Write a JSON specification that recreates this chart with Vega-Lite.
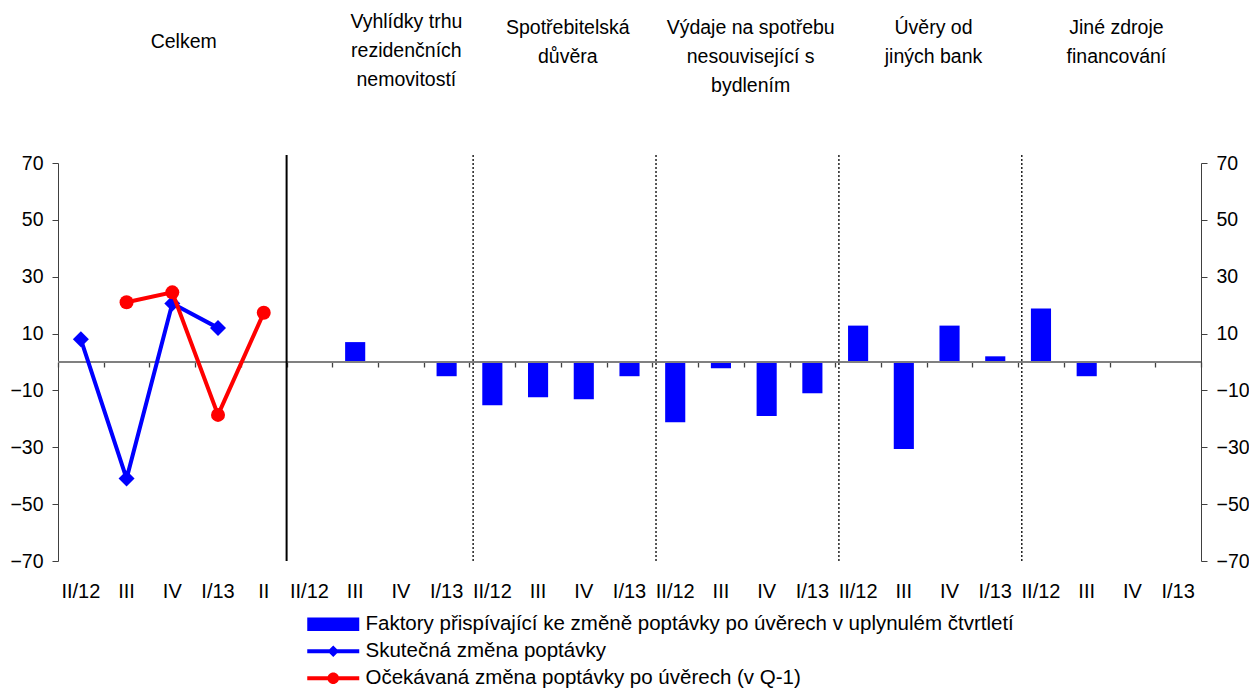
{
  "$schema": "https://vega.github.io/schema/vega-lite/v6.json",
  "width": 1143,
  "height": 398,
  "autosize": {"type": "none"},
  "padding": {"left": 58, "top": 163, "right": 48, "bottom": 127},
  "background": "white",
  "config": {
    "view": {"stroke": null},
    "axis": {"labelFont": "Liberation Sans", "labelColor": "#000000", "grid": false, "labelFlush": false, "labelOverlap": false}
  },
  "datasets": {
    "main": [
      {"key": "0|II/12", "series": "Skutečná změna poptávky", "value": 8},
      {"key": "0|III", "series": "Skutečná změna poptávky", "value": -41},
      {"key": "0|IV", "series": "Skutečná změna poptávky", "value": 20.6},
      {"key": "0|I/13", "series": "Skutečná změna poptávky", "value": 12},
      {"key": "0|III", "series": "Očekávaná změna poptávky po úvěrech (v Q-1)", "value": 21},
      {"key": "0|IV", "series": "Očekávaná změna poptávky po úvěrech (v Q-1)", "value": 24.5},
      {"key": "0|I/13", "series": "Očekávaná změna poptávky po úvěrech (v Q-1)", "value": -18.6},
      {"key": "0|II", "series": "Očekávaná změna poptávky po úvěrech (v Q-1)", "value": 17.3},
      {"key": "1|II/12", "series": "Faktory přispívající ke změně poptávky po úvěrech v uplynulém čtvrtletí", "value": 0},
      {"key": "1|III", "series": "Faktory přispívající ke změně poptávky po úvěrech v uplynulém čtvrtletí", "value": 7},
      {"key": "1|IV", "series": "Faktory přispívající ke změně poptávky po úvěrech v uplynulém čtvrtletí", "value": 0},
      {"key": "1|I/13", "series": "Faktory přispívající ke změně poptávky po úvěrech v uplynulém čtvrtletí", "value": -5},
      {"key": "2|II/12", "series": "Faktory přispívající ke změně poptávky po úvěrech v uplynulém čtvrtletí", "value": -15.2},
      {"key": "2|III", "series": "Faktory přispívající ke změně poptávky po úvěrech v uplynulém čtvrtletí", "value": -12.4},
      {"key": "2|IV", "series": "Faktory přispívající ke změně poptávky po úvěrech v uplynulém čtvrtletí", "value": -13.1},
      {"key": "2|I/13", "series": "Faktory přispívající ke změně poptávky po úvěrech v uplynulém čtvrtletí", "value": -5},
      {"key": "3|II/12", "series": "Faktory přispívající ke změně poptávky po úvěrech v uplynulém čtvrtletí", "value": -21.2},
      {"key": "3|III", "series": "Faktory přispívající ke změně poptávky po úvěrech v uplynulém čtvrtletí", "value": -2.2},
      {"key": "3|IV", "series": "Faktory přispívající ke změně poptávky po úvěrech v uplynulém čtvrtletí", "value": -19},
      {"key": "3|I/13", "series": "Faktory přispívající ke změně poptávky po úvěrech v uplynulém čtvrtletí", "value": -11},
      {"key": "4|II/12", "series": "Faktory přispívající ke změně poptávky po úvěrech v uplynulém čtvrtletí", "value": 12.8},
      {"key": "4|III", "series": "Faktory přispívající ke změně poptávky po úvěrech v uplynulém čtvrtletí", "value": -30.6},
      {"key": "4|IV", "series": "Faktory přispívající ke změně poptávky po úvěrech v uplynulém čtvrtletí", "value": 12.8},
      {"key": "4|I/13", "series": "Faktory přispívající ke změně poptávky po úvěrech v uplynulém čtvrtletí", "value": 2},
      {"key": "5|II/12", "series": "Faktory přispívající ke změně poptávky po úvěrech v uplynulém čtvrtletí", "value": 18.8},
      {"key": "5|III", "series": "Faktory přispívající ke změně poptávky po úvěrech v uplynulém čtvrtletí", "value": -5},
      {"key": "5|IV", "series": "Faktory přispívající ke změně poptávky po úvěrech v uplynulém čtvrtletí", "value": 0},
      {"key": "5|I/13", "series": "Faktory přispívající ke změně poptávky po úvěrech v uplynulém čtvrtletí", "value": 0}
    ],
    "titles": [
      {"key": "0|IV", "grp": "a", "text": "Celkem"},
      {"key": "1|IV", "grp": "b", "text": "Vyhlídky trhu|rezidenčních|nemovitostí"},
      {"key": "2|IV", "grp": "c", "text": "Spotřebitelská|důvěra"},
      {"key": "3|IV", "grp": "c", "text": "Výdaje na spotřebu|nesouvisející s|bydlením"},
      {"key": "4|IV", "grp": "c", "text": "Úvěry od|jiných bank"},
      {"key": "5|IV", "grp": "c", "text": "Jiné zdroje|financování"}
    ],
    "seps": [
      {"key": "1|II/12", "kind": "solid"},
      {"key": "2|II/12", "kind": "dotted"},
      {"key": "3|II/12", "kind": "dotted"},
      {"key": "4|II/12", "kind": "dotted"},
      {"key": "5|II/12", "kind": "dotted"}
    ]
  },
  "layer": [
    {
      "data": {"name": "main"},
      "transform": [{"filter": "datum.series === 'Faktory přispívající ke změně poptávky po úvěrech v uplynulém čtvrtletí'"}],
      "mark": {"type": "bar", "width": {"band": 0.44}},
      "encoding": {
        "x": {
          "field": "key",
          "type": "nominal",
          "sort": null,
          "scale": {
            "domain": ["0|II/12", "0|III", "0|IV", "0|I/13", "0|II", "1|II/12", "1|III", "1|IV", "1|I/13", "2|II/12", "2|III", "2|IV", "2|I/13", "3|II/12", "3|III", "3|IV", "3|I/13", "4|II/12", "4|III", "4|IV", "4|I/13", "5|II/12", "5|III", "5|IV", "5|I/13"],
            "paddingInner": 0,
            "paddingOuter": 0
          },
          "axis": {
            "orient": "bottom",
            "title": null,
            "ticks": false,
            "domain": false,
            "labelAngle": 0,
            "labelPadding": 20,
            "labelFontSize": 20,
            "labelExpr": "split(datum.value, '|')[1]"
          }
        },
        "y": {
          "field": "value",
          "type": "quantitative",
          "scale": {"domain": [-70, 70], "nice": false, "zero": false},
          "axis": {
            "orient": "left",
            "title": null,
            "values": [70, 50, 30, 10, -10, -30, -50, -70],
            "labelFontSize": 19.5,
            "labelPadding": 9,
            "tickSize": 6,
            "tickColor": "#404040",
            "domainColor": "#404040"
          }
        },
        "color": {
          "field": "series",
          "type": "nominal",
          "scale": {
            "domain": ["Faktory přispívající ke změně poptávky po úvěrech v uplynulém čtvrtletí", "Skutečná změna poptávky", "Očekávaná změna poptávky po úvěrech (v Q-1)"],
            "range": ["#0000FF", "#0000FF", "#FF0000"]
          }
        }
      }
    },
    {
      "data": {"values": [{}]},
      "mark": {"type": "rule", "color": "#808080", "strokeWidth": 2},
      "encoding": {
        "y": {
          "datum": 0,
          "type": "quantitative",
          "axis": {
            "orient": "right",
            "title": null,
            "values": [70, 50, 30, 10, -10, -30, -50, -70],
            "labelFontSize": 19.5,
            "labelPadding": 9,
            "tickSize": 6,
            "tickColor": "#404040",
            "domainColor": "#404040"
          }
        }
      }
    },
    {
      "data": {"name": "main"},
      "mark": {"type": "point", "filled": true, "opacity": 0},
      "encoding": {
        "x": {"field": "key", "type": "nominal", "sort": null, "axis": null},
        "y": {"field": "value", "type": "quantitative", "axis": null},
        "color": {
          "field": "series",
          "type": "nominal",
          "scale": {
            "domain": ["Faktory přispívající ke změně poptávky po úvěrech v uplynulém čtvrtletí", "Skutečná změna poptávky", "Očekávaná změna poptávky po úvěrech (v Q-1)"],
            "range": ["#0000FF", "#0000FF", "#FF0000"]
          },
          "legend": {
            "orient": "none",
            "legendX": 265,
            "legendY": 451,
            "direction": "vertical",
            "title": null,
            "padding": 0,
            "symbolSize": 400,
            "symbolOpacity": 1,
            "symbolStrokeWidth": 0,
            "labelOffset": 22,
            "rowPadding": 6,
            "labelFontSize": 20.5,
            "labelFont": "Liberation Sans",
            "labelColor": "#000000",
            "labelLimit": 0
          }
        },
        "shape": {
          "field": "series",
          "type": "nominal",
          "scale": {
            "domain": ["Faktory přispívající ke změně poptávky po úvěrech v uplynulém čtvrtletí", "Skutečná změna poptávky", "Očekávaná změna poptávky po úvěrech (v Q-1)"],
            "range": [
              "M-2.6,-0.665H2.6V0.665H-2.6Z",
              "M-2.6,-0.2H2.6V0.2H-2.6Z M0,-0.58L0.58,0L0,0.58L-0.58,0Z",
              "M-2.6,-0.2H2.6V0.2H-2.6Z M-0.58,0A0.58,0.58 0 1,1 0.58,0A0.58,0.58 0 1,1 -0.58,0Z"
            ]
          },
          "legend": {
            "orient": "none",
            "legendX": 265,
            "legendY": 451,
            "direction": "vertical",
            "title": null,
            "padding": 0,
            "symbolSize": 400,
            "symbolOpacity": 1,
            "symbolStrokeWidth": 0,
            "labelOffset": 22,
            "rowPadding": 6,
            "labelFontSize": 20.5,
            "labelFont": "Liberation Sans",
            "labelColor": "#000000",
            "labelLimit": 0
          }
        }
      }
    },
    {
      "data": {"name": "main"},
      "transform": [{"filter": "datum.series === 'Skutečná změna poptávky'"}],
      "mark": {"type": "line", "strokeWidth": 4},
      "encoding": {
        "x": {"field": "key", "type": "nominal", "sort": null, "axis": null},
        "y": {"field": "value", "type": "quantitative", "axis": null},
        "color": {"field": "series", "type": "nominal"},
        "order": {"value": null}
      }
    },
    {
      "data": {"name": "main"},
      "transform": [{"filter": "datum.series === 'Skutečná změna poptávky'"}],
      "mark": {"type": "point", "shape": "diamond", "filled": true, "size": 256, "opacity": 1},
      "encoding": {
        "x": {"field": "key", "type": "nominal", "sort": null, "axis": null},
        "y": {"field": "value", "type": "quantitative", "axis": null},
        "color": {"field": "series", "type": "nominal"}
      }
    },
    {
      "data": {"name": "main"},
      "transform": [{"filter": "datum.series === 'Očekávaná změna poptávky po úvěrech (v Q-1)'"}],
      "mark": {"type": "line", "strokeWidth": 4},
      "encoding": {
        "x": {"field": "key", "type": "nominal", "sort": null, "axis": null},
        "y": {"field": "value", "type": "quantitative", "axis": null},
        "color": {"field": "series", "type": "nominal"},
        "order": {"value": null}
      }
    },
    {
      "data": {"name": "main"},
      "transform": [{"filter": "datum.series === 'Očekávaná změna poptávky po úvěrech (v Q-1)'"}],
      "mark": {"type": "point", "shape": "circle", "filled": true, "size": 196, "opacity": 1},
      "encoding": {
        "x": {"field": "key", "type": "nominal", "sort": null, "axis": null},
        "y": {"field": "value", "type": "quantitative", "axis": null},
        "color": {"field": "series", "type": "nominal"}
      }
    },
    {
      "data": {"name": "seps"},
      "transform": [{"filter": "datum.kind === 'solid'"}],
      "mark": {"type": "rule", "color": "#000000", "strokeWidth": 2},
      "encoding": {
        "x": {
          "field": "key",
          "type": "nominal",
          "sort": null,
          "bandPosition": 0,
          "axis": {
            "orient": "bottom",
            "offset": -199,
            "title": null,
            "labels": false,
            "domain": false,
            "ticks": true,
            "tickBand": "extent",
            "tickSize": 5,
            "tickWidth": 1.3,
            "tickColor": "#404040"
          }
        },
        "y": {"datum": 72.8, "type": "quantitative", "axis": null},
        "y2": {"datum": -70}
      }
    },
    {
      "data": {"name": "seps"},
      "transform": [{"filter": "datum.kind === 'dotted'"}],
      "mark": {"type": "rule", "color": "#222222", "strokeWidth": 1.5, "strokeDash": [2, 2]},
      "encoding": {
        "x": {"field": "key", "type": "nominal", "sort": null, "bandPosition": 0.08, "axis": null},
        "y": {"datum": 72.8, "type": "quantitative", "axis": null},
        "y2": {"datum": -70}
      }
    },
    {
      "data": {"name": "titles"},
      "transform": [{"filter": "datum.grp === 'a'"}],
      "mark": {"type": "text", "font": "Liberation Sans", "fontSize": 19.5, "color": "#000000", "align": "center", "baseline": "middle", "lineBreak": "|", "lineHeight": 29},
      "encoding": {
        "x": {"field": "key", "type": "nominal", "sort": null, "bandPosition": 0.75, "axis": null},
        "y": {"datum": 112.6, "type": "quantitative", "axis": null},
        "text": {"field": "text", "type": "nominal"}
      }
    },
    {
      "data": {"name": "titles"},
      "transform": [{"filter": "datum.grp === 'b'"}],
      "mark": {"type": "text", "font": "Liberation Sans", "fontSize": 19.5, "color": "#000000", "align": "center", "baseline": "top", "lineBreak": "|", "lineHeight": 29},
      "encoding": {
        "x": {"field": "key", "type": "nominal", "sort": null, "bandPosition": 0.62, "axis": null},
        "y": {"datum": 122.6, "type": "quantitative", "axis": null},
        "text": {"field": "text", "type": "nominal"}
      }
    },
    {
      "data": {"name": "titles"},
      "transform": [{"filter": "datum.grp === 'c'"}],
      "mark": {"type": "text", "font": "Liberation Sans", "fontSize": 19.5, "color": "#000000", "align": "center", "baseline": "top", "lineBreak": "|", "lineHeight": 29},
      "encoding": {
        "x": {"field": "key", "type": "nominal", "sort": null, "bandPosition": 0.15, "axis": null},
        "y": {"datum": 120.5, "type": "quantitative", "axis": null},
        "text": {"field": "text", "type": "nominal"}
      }
    }
  ],
  "resolve": {"axis": {"x": "independent", "y": "independent"}}
}
